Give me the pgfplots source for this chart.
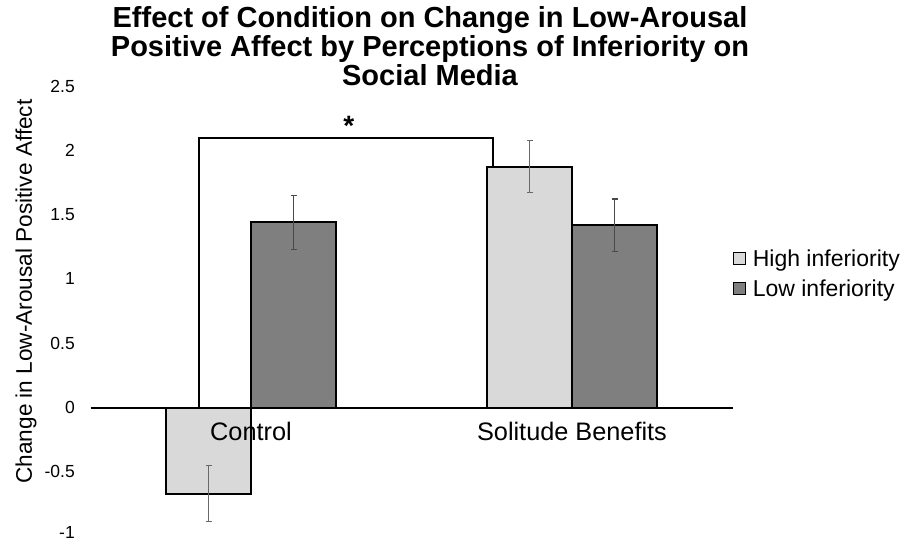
\documentclass[border=0pt]{standalone}
\usepackage{fontspec}
\setmainfont{Liberation Sans}
\usepackage{pgfplots}
\pgfplotsset{compat=1.18}
\definecolor{lightbar}{HTML}{D9D9D9}
\definecolor{darkbar}{HTML}{7F7F7F}
\definecolor{errgray}{HTML}{686868}
\begin{document}
\begin{tikzpicture}
\path[use as bounding box] (0,0) rectangle (901pt,541pt);
\begin{axis}[
  at={(90.5pt,4.4pt)}, anchor=south west,
  scale only axis, width=642pt, height=449.3pt,
  xmin=-0.5, xmax=1.5, ymin=-1, ymax=2.5,
  clip=false, axis on top,
  axis x line=middle, axis y line=left,
  x axis line style={-, line width=2pt, black},
  y axis line style={draw=none},
  hide obscured x ticks=false, hide obscured y ticks=false,
  xtick={0,1}, xticklabels={Control, Solitude Benefits},
  ytick={-1,-0.5,0,0.5,1,1.5,2,2.5},
  yticklabels={\raisebox{3pt}[12.5pt][0pt]{-1},-0.5,0,0.5,1,1.5,2,2.5},
  major tick length=0pt,
  x tick label style={font=\fontsize{25.3}{28}\selectfont, inner sep=0pt, anchor=north, yshift=-14pt},
  y tick label style={font=\fontsize{17.5}{20}\selectfont, inner sep=0pt, anchor=east, xshift=-15.5pt, yshift=1pt},
  title={Effect of Condition on Change in Low-Arousal\\Positive Affect by Perceptions of Inferiority on\\Social Media},
  title style={at={(axis description cs:0.5288,1.1665)}, anchor=north, inner sep=0pt, align=center, font=\fontsize{29}{29}\selectfont\bfseries},
  ylabel={Change in Low-Arousal Positive Affect},
  every axis y label/.style={at={(axis description cs:-0.1005,0.5455)}, rotate=90, anchor=center, inner sep=0pt, font=\fontsize{22.6}{25}\selectfont},
  legend style={at={(axis description cs:1.0,0.5845)}, anchor=west, draw=none, fill=none, inner sep=0pt, row sep=11.5pt, font=\fontsize{23}{25}\selectfont, nodes={inner sep=0pt}},
  legend cell align=left,
  legend image code/.code={\draw[#1, draw=black, line width=1.2pt] (0pt,-5.5pt) rectangle (12pt,6.5pt); \path (18.5pt,0pt);},
]
\addplot[ybar, bar width=85pt, bar shift=0pt, fill=lightbar, draw=black, line width=2pt,
  error bars/.cd, y dir=both, y explicit,
  error bar style={errgray, line width=1.2pt},
  error mark options={rotate=90, mark size=3pt, errgray, line width=1.2pt}]
  coordinates {(-0.1324,-0.665) +- (0,0.217) (0.8676,1.883) +- (0,0.205)};
\addlegendentry{High inferiority}
\addplot[ybar, bar width=85pt, bar shift=0pt, fill=darkbar, draw=black, line width=2pt,
  error bars/.cd, y dir=both, y explicit,
  error bar style={errgray!70!black, line width=1.2pt},
  error mark options={rotate=90, mark size=3pt, errgray!70!black, line width=1.2pt}]
  coordinates {(0.1324,1.447) +- (0,0.213) (1.1324,1.426) +- (0,0.204)};
\addlegendentry{Low inferiority}
\addplot[black, line width=2pt, sharp plot, mark=none, line join=miter, forget plot]
  coordinates {(-0.161,0) (-0.161,2.104) (0.753,2.104) (0.753,1.883)};
\node[font=\fontsize{28}{28}\selectfont\bfseries, inner sep=0pt] at (axis cs:0.305,2.2) {*};
\end{axis}
\end{tikzpicture}
\end{document}
